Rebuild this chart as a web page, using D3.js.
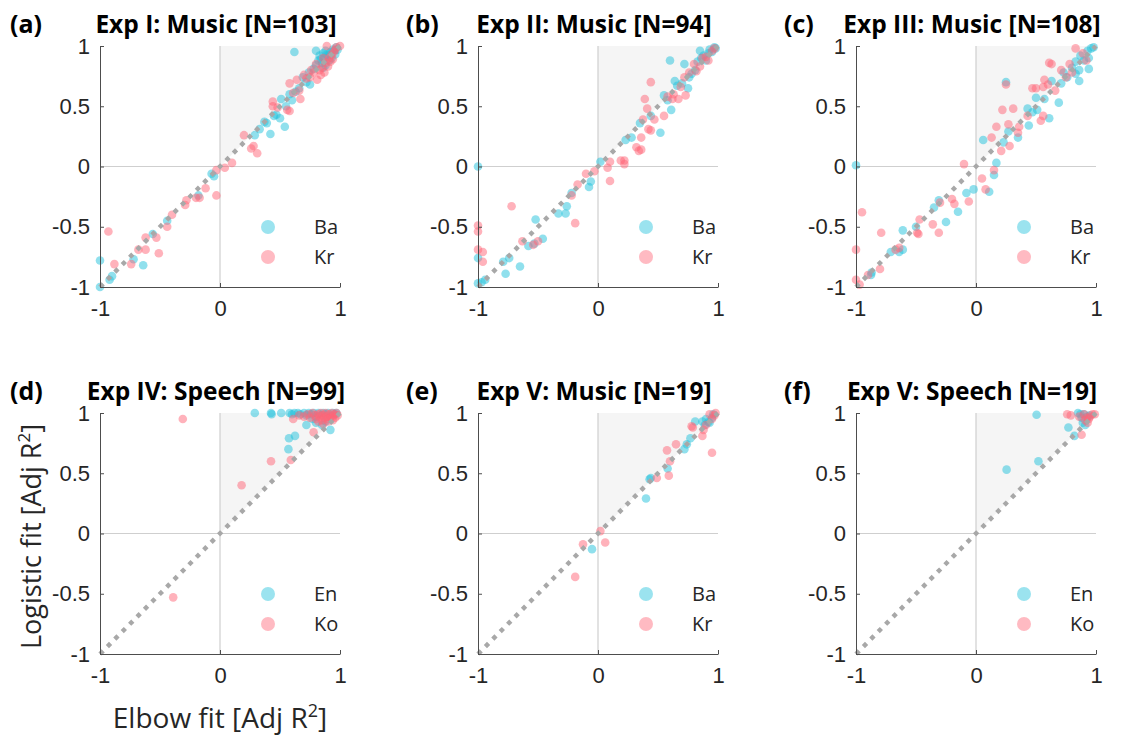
<!DOCTYPE html>
<html>
<head>
<meta charset="utf-8">
<title>Elbow vs Logistic</title>
<style>
  body { margin: 0; background: #fff; }
  svg { font-family: "Open Sans", "Noto Sans", sans-serif; }
  .axis path, .axis line { stroke: #4d4d4d; }
  .axis text { font-size: 22px; fill: #262626; }
</style>
</head>
<body>
<script src="https://cdn.jsdelivr.net/npm/d3@7"></script>
<script>

// panel titles and legend names
var panelTags = ["(a)", "(b)", "(c)", "(d)", "(e)", "(f)"];
var panelTitles = ["Exp I: Music [N=103]", "Exp II: Music [N=94]", "Exp III: Music [N=108]",
                   "Exp IV: Speech [N=99]", "Exp V: Music [N=19]", "Exp V: Speech [N=19]"];
var seriesNames = [["Ba", "Kr"], ["Ba", "Kr"], ["Ba", "Kr"], ["En", "Ko"], ["Ba", "Kr"], ["En", "Ko"]];

var yTicks = [-1, -0.5, 0, 0.5, 1];
var yTickLabels = ["-1", "-0.5", "0", "0.5", "1"];
var xTicks = [-1, 0, 1];
var xTickLabels = ["-1", "0", "1"];

// [elbow adj R2, logistic adj R2]
var expI_Ba = [[-1.0,-1.0],[-1.0,-0.78],[-0.92,-0.94],[-0.9,-0.91],[-0.72,-0.77],[-0.64,-0.82],[-0.56,-0.56],[-0.44,-0.45],
  [-0.18,-0.24],[-0.07,-0.06],[-0.05,-0.08],[0.29,0.26],[0.42,0.27],[0.54,0.33],[0.37,0.37],[0.39,0.36],[0.5,0.4],[0.47,0.43],
  [0.51,0.56],[0.58,0.6],[0.62,0.95],[0.63,0.62],[0.69,0.74],[0.74,0.78],[0.75,0.68],[0.78,0.81],[0.8,0.84],[0.82,0.88],
  [0.8,0.96],[0.83,0.92],[0.85,0.86],[0.86,0.94],[0.87,0.9],[0.88,0.96],[0.88,0.84],[0.9,0.92],[0.91,0.88],[0.92,0.95],
  [0.93,0.9],[0.94,0.97],[0.95,0.96],[0.96,0.93],[0.97,0.99],[0.98,0.97],[0.84,0.89],[0.89,0.93],[0.86,0.82],[0.72,0.7],
  [0.66,0.65],[0.6,0.55],[0.45,0.42],[0.33,0.31],[0.55,0.5]];
var expI_Kr = [[-0.93,-0.54],[-0.88,-0.81],[-0.74,-0.81],[-0.68,-0.69],[-0.62,-0.69],[-0.62,-0.59],[-0.53,-0.59],[-0.51,-0.72],
  [-0.44,-0.5],[-0.4,-0.4],[-0.29,-0.32],[-0.28,-0.28],[-0.2,-0.26],[-0.17,-0.26],[-0.12,-0.18],[-0.03,-0.24],[-0.03,-0.03],
  [0.04,-0.01],[0.1,0.03],[0.2,0.26],[0.26,0.15],[0.28,0.17],[0.31,0.11],[0.44,0.54],[0.44,0.5],[0.48,0.49],[0.56,0.47],
  [0.58,0.46],[0.58,0.69],[0.61,0.61],[0.64,0.72],[0.67,0.56],[0.7,0.76],[0.72,0.73],[0.76,0.8],[0.78,0.78],[0.81,0.72],
  [0.8,0.85],[0.83,0.8],[0.85,0.82],[0.86,0.9],[0.87,0.78],[0.88,0.86],[0.89,1.0],[0.9,0.83],[0.91,0.9],[0.92,0.87],
  [0.93,0.93],[0.94,0.89],[0.95,0.95],[0.97,0.99],[1.0,1.0],[0.96,0.97],[0.84,0.76],[0.75,0.74],[0.66,0.63]];

var expII_Ba = [[-1.0,0.0],[-1.0,-0.76],[-1.0,-0.97],[-0.97,-0.96],[-0.94,-0.94],[-0.79,-0.79],[-0.77,-0.89],[-0.74,-0.76],
  [-0.65,-0.83],[-0.58,-0.66],[-0.53,-0.64],[-0.46,-0.6],[-0.52,-0.44],[-0.33,-0.39],[-0.27,-0.39],[-0.26,-0.33],[-0.22,-0.22],
  [-0.075,-0.17],[-0.06,-0.125],[0.02,0.04],[0.23,0.22],[0.28,0.24],[0.35,0.36],[0.52,0.28],[0.61,0.47],[0.55,0.59],
  [0.6,0.88],[0.64,0.71],[0.72,0.85],[0.75,0.65],[0.76,0.74],[0.78,0.77],[0.81,0.8],[0.83,0.87],[0.85,0.96],[0.86,0.9],
  [0.88,0.92],[0.9,0.88],[0.92,0.94],[0.93,0.97],[0.95,0.95],[0.97,0.99],[0.98,0.98],[0.7,0.69],[0.66,0.67],[0.58,0.55],[0.44,0.42]];
var expII_Kr = [[-1.0,-0.49],[-1.0,-0.54],[-1.0,-0.69],[-0.96,-0.71],[-0.96,-0.79],[-0.72,-0.33],[-0.63,-0.62],[-0.5,-0.62],
  [-0.54,-0.65],[-0.19,-0.47],[-0.22,-0.24],[-0.17,-0.15],[-0.1,-0.06],[-0.03,-0.04],[0.1,-0.12],[0.08,-0.01],[0.1,0.04],
  [0.19,0.05],[0.22,0.02],[0.22,0.05],[0.32,0.16],[0.34,0.13],[0.36,0.14],[0.36,0.24],[0.375,0.39],[0.42,0.31],[0.44,0.3],
  [0.41,0.48],[0.39,0.56],[0.44,0.7],[0.47,0.39],[0.55,0.42],[0.62,0.56],[0.67,0.56],[0.73,0.59],[0.69,0.66],[0.72,0.74],
  [0.76,0.78],[0.8,0.85],[0.82,0.79],[0.85,0.83],[0.87,0.9],[0.9,0.91],[0.92,0.88],[0.95,0.96],[0.97,0.98],[0.63,0.6],[0.58,0.58]];

var expIII_Ba = [[-1.0,0.01],[-0.875,-0.9],[-0.87,-0.88],[-0.71,-0.71],[-0.64,-0.71],[-0.61,-0.69],[-0.61,-0.53],[-0.31,-0.28],
  [-0.25,-0.46],[-0.15,-0.375],[-0.08,-0.22],[-0.02,-0.19],[0.11,-0.21],[0.15,-0.07],[0.17,0.03],[0.06,0.22],[0.25,0.7],
  [0.23,0.2],[0.27,0.29],[0.35,0.24],[0.44,0.34],[0.43,0.48],[0.5,0.57],[0.51,0.47],[0.61,0.4],[0.63,0.71],[0.69,0.53],
  [0.71,0.69],[0.76,0.74],[0.83,0.77],[0.86,0.71],[0.83,0.87],[0.87,0.92],[0.9,0.88],[0.93,0.96],[0.94,0.9],[0.96,0.98],
  [0.98,0.99],[0.86,0.8],[0.8,0.82],[0.94,0.81],[0.73,0.78],[0.57,0.56],[0.47,0.45],[-0.35,-0.34],[-0.5,-0.5]];
var expIII_Kr = [[-1.0,-0.69],[-1.0,-0.94],[-0.97,-0.98],[-0.95,-0.38],[-0.79,-0.55],[-0.8,-0.85],[-0.64,-0.675],[-0.67,-0.69],
  [-0.48,-0.56],[-0.49,-0.55],[-0.47,-0.44],[-0.36,-0.48],[-0.31,-0.55],[-0.2,-0.27],[-0.18,-0.31],[-0.06,-0.29],[-0.1,0.02],
  [0.05,-0.1],[0.08,-0.19],[0.15,-0.03],[0.13,0.24],[0.17,0.33],[0.21,0.13],[0.28,0.17],[0.22,0.47],[0.25,0.68],[0.31,0.48],
  [0.27,0.35],[0.35,0.28],[0.36,0.33],[0.43,0.42],[0.54,0.38],[0.56,0.42],[0.47,0.65],[0.5,0.65],[0.56,0.66],[0.6,0.68],
  [0.57,0.72],[0.61,0.86],[0.63,0.85],[0.71,0.8],[0.78,0.85],[0.83,0.98],[0.89,0.94],[0.92,0.88],[0.75,0.74],[0.66,0.63],
  [0.8,0.78],[-0.9,-0.9],[-0.3,-0.3]];

var expIV_En = [[0.29,1.0],[0.425,1.0],[0.43,0.99],[0.51,1.0],[0.58,1.0],[0.6,0.99],[0.62,1.0],[0.65,1.0],[0.67,0.99],[0.7,1.0],
  [0.72,0.98],[0.74,1.0],[0.76,0.99],[0.78,1.0],[0.8,0.97],[0.82,1.0],[0.84,0.98],[0.86,1.0],[0.88,0.99],[0.9,1.0],[0.92,0.97],
  [0.94,1.0],[0.96,0.99],[0.97,1.0],[0.72,0.9],[0.575,0.79],[0.625,0.81],[0.57,0.7],[0.92,0.86],[0.85,0.9],[0.77,0.95],
  [0.88,0.93],[0.8,0.92]];
var expIV_Ko = [[-0.31,0.95],[-0.39,-0.53],[0.18,0.4],[0.425,0.6],[0.59,0.61],[0.78,0.84],[0.61,0.95],[0.66,0.98],[0.7,0.97],
  [0.73,0.99],[0.75,0.96],[0.77,1.0],[0.79,0.98],[0.8,0.95],[0.82,0.99],[0.83,0.97],[0.84,1.0],[0.85,0.94],[0.86,0.98],
  [0.87,0.96],[0.88,1.0],[0.89,0.97],[0.9,0.93],[0.91,0.99],[0.92,0.96],[0.93,1.0],[0.94,0.97],[0.95,0.99],[0.96,0.96],
  [0.97,1.0],[0.98,0.98],[0.86,0.91],[0.9,0.95],[0.94,0.94],[0.82,0.93]];

var expVm_Ba = [[-0.05,-0.13],[0.4,0.29],[0.43,0.45],[0.44,0.46],[0.58,0.54],[0.72,0.7],[0.74,0.74],[0.77,0.79],[0.81,0.93],
  [0.87,0.93],[0.9,0.95],[0.92,0.925],[0.96,0.99],[0.89,0.9],[0.95,0.96],[0.93,0.92]];
var expVm_Kr = [[-0.19,-0.36],[-0.125,-0.09],[0.02,0.02],[0.06,-0.075],[0.49,0.46],[0.59,0.48],[0.6,0.6],[0.575,0.69],
  [0.65,0.74],[0.78,0.89],[0.79,0.88],[0.87,0.81],[0.95,0.67],[0.88,0.86],[0.93,0.99],[0.97,0.98],[0.9,0.9],[0.95,0.95],[0.98,1.0]];

var expVs_En = [[0.255,0.53],[0.52,0.6],[0.505,0.985],[0.77,0.88],[0.82,0.81],[0.85,1.0],[0.87,0.99],[0.91,0.9],[0.89,0.92],
  [0.93,0.97],[0.88,0.96],[0.95,0.98],[0.9,0.99]];
var expVs_Ko = [[0.76,0.99],[0.79,0.98],[0.88,0.82],[0.9,0.99],[0.92,0.96],[0.93,0.92],[0.97,0.99],[0.99,0.99],[0.95,0.97],
  [0.91,0.94],[0.94,0.95],[0.86,0.97]];

var panelData = [[expI_Ba, expI_Kr], [expII_Ba, expII_Kr], [expIII_Ba, expIII_Kr],
                 [expIV_En, expIV_Ko], [expVm_Ba, expVm_Kr], [expVs_En, expVs_Ko]];

var colors = ["#22c1dc", "#ff6677"];
var w = 1123, h = 737;
var cols = [100, 478, 856];
var tagX = [10, 406, 784];
var rows = [46, 413];
var pw = 240, ph = 241;

var svg = d3.select("body").append("svg")
  .attr("width", w)
  .attr("height", h);

panelData.forEach(function(series, i){
  var x0 = cols[i % 3], y0 = rows[Math.floor(i / 3)];
  var g = svg.append("g").attr("transform", "translate(" + x0 + "," + y0 + ")");

  var xScale = d3.scaleLinear().domain([-1, 1]).range([0, pw]);
  var yScale = d3.scaleLinear().domain([-1, 1]).range([ph, 0]);
  var line = d3.line().x(function(d){ return xScale(d[0]); }).y(function(d){ return yScale(d[1]); });

  // upper triangle shading
  g.append("path")
    .attr("d", line([[0, 0], [0, 1], [1, 1]]) + "Z")
    .attr("fill", "#f5f5f5");

  // zero lines
  g.append("path").attr("d", line([[0, -1], [0, 1]])).attr("stroke", "#cfcfcf").attr("stroke-width", 1.2);
  g.append("path").attr("d", line([[-1, 0], [1, 0]])).attr("stroke", "#cfcfcf").attr("stroke-width", 1.2);

  series.forEach(function(pts, k){
    g.append("g").selectAll("circle")
      .data(pts)
      .enter().append("circle")
      .attr("cx", function(d){ return xScale(d[0]); })
      .attr("cy", function(d){ return yScale(d[1]); })
      .attr("r", 4.3)
      .attr("fill", colors[k])
      .attr("fill-opacity", 0.5);
  });

  // identity line
  g.append("path")
    .attr("d", line([[-1, -1], [1, 1]]))
    .attr("fill", "none")
    .attr("stroke", "#a8a8a8")
    .attr("stroke-width", 4.5)
    .attr("stroke-dasharray", "4.5 6");

  g.append("g")
    .attr("class", "axis")
    .attr("transform", "translate(0," + ph + ")")
    .call(d3.axisBottom(xScale).tickValues(xTicks)
      .tickFormat(function(d, j){ return xTickLabels[j]; })
      .tickSizeInner(-4).tickSizeOuter(0).tickPadding(13));

  g.append("g")
    .attr("class", "axis")
    .call(d3.axisLeft(yScale).tickValues(yTicks)
      .tickFormat(function(d, j){ return yTickLabels[j]; })
      .tickSizeInner(-4).tickSizeOuter(0).tickPadding(10));

  // legend
  seriesNames[i].forEach(function(name, k){
    g.append("circle")
      .attr("cx", 168).attr("cy", 181 + k * 30).attr("r", 7)
      .attr("fill", colors[k]).attr("fill-opacity", 0.45);
    g.append("text")
      .attr("x", 214).attr("y", 181 + k * 30).attr("dy", "0.35em")
      .attr("font-size", 20).attr("fill", "#262626")
      .text(name);
  });

  // titles
  svg.append("text")
    .attr("x", tagX[i % 3]).attr("y", y0 - 13)
    .attr("font-size", 25).attr("font-weight", "bold")
    .text(panelTags[i]);
  svg.append("text")
    .attr("x", x0 + 116).attr("y", y0 - 13)
    .attr("text-anchor", "middle")
    .attr("font-size", 24.5).attr("font-weight", "bold")
    .text(panelTitles[i]);
});

// axis labels
var yl = svg.append("text")
  .attr("transform", "translate(41," + (rows[1] + ph / 2 + 3) + ") rotate(-90)")
  .attr("text-anchor", "middle")
  .attr("font-size", 27).attr("fill", "#262626");
yl.append("tspan").text("Logistic fit [Adj R");
yl.append("tspan").attr("font-size", 17).attr("dy", -11).text("2");
yl.append("tspan").attr("dy", 11).text("]");

var xl = svg.append("text")
  .attr("x", cols[0] + pw / 2).attr("y", 728)
  .attr("text-anchor", "middle")
  .attr("font-size", 28).attr("fill", "#262626");
xl.append("tspan").text("Elbow fit [Adj R");
xl.append("tspan").attr("font-size", 18).attr("dy", -11).text("2");
xl.append("tspan").attr("dy", 11).text("]");

</script>
</body>
</html>
